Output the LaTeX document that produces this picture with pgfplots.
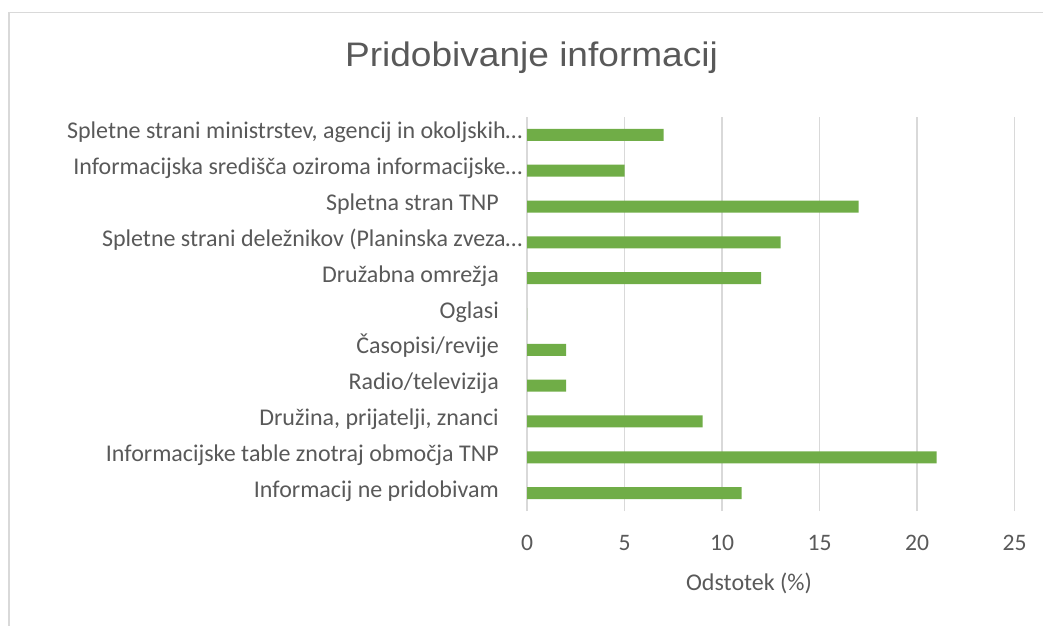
\documentclass[border=0pt]{standalone}
\usepackage{fontspec}
\setmainfont{Carlito}
\newfontfamily\titlefont[FakeStretch=1.09]{Liberation Sans}
\usepackage{pgfplots}
\pgfplotsset{compat=1.18}
\definecolor{bargreen}{HTML}{70AD47}
\definecolor{gridgray}{HTML}{D9D9D9}
\definecolor{txtgray}{HTML}{595959}
\newcommand\shiftlab[1]{\makebox[0pt][l]{\hspace{24pt}\llap{#1}}}
\begin{document}
\begin{tikzpicture}
\useasboundingbox (0,0) rectangle (1043pt,625pt);
\draw[gridgray, line width=1.6pt] (9pt,-2pt) -- (9pt,612.5pt) -- (1045pt,612.5pt);
\node[anchor=base, inner sep=0pt, text=txtgray, font=\titlefont\fontsize{34}{40}\selectfont]
  at (531.5pt,558.3pt) {Pridobivanje informacij};
\begin{axis}[
  at={(527pt,114pt)}, anchor=south west,
  scale only axis, width=487.5pt, height=394pt,
  xbar, bar width=12pt,
  xmin=0, xmax=25, ymin=-0.5, ymax=10.5,
  xtick={0,5,...,25},
  ytick={0,...,10},
  yticklabels={
    Informacij ne pridobivam,
    Informacijske table znotraj območja TNP,
    {Družina, prijatelji, znanci},
    Radio/televizija,
    Časopisi/revije,
    Oglasi,
    Družabna omrežja,
    \shiftlab{Spletne strani deležnikov (Planinska zveza…},
    Spletna stran TNP,
    \shiftlab{Informacijska središča oziroma informacijske…},
    \shiftlab{Spletne strani ministrstev, agencij in okoljskih…}},
  axis line style={draw=none},
  major tick length=0pt,
  xmajorgrids, grid style={gridgray, line width=1.5pt},
  /pgf/number format/assume math mode=true,
  tick label style={font=\fontsize{23.6}{26}\selectfont, text=txtgray, inner sep=0pt},
  yticklabel style={font=\fontsize{24}{26}\selectfont, anchor=east, xshift=-28pt, text height=15pt, text depth=7pt},
  xticklabel style={anchor=north, yshift=-24pt, text height=15pt, text depth=0pt},
  xlabel={Odstotek (\%)},
  xlabel style={font=\fontsize{24}{26}\selectfont, text=txtgray, inner sep=0pt,
    at={(axis description cs:0.4554,-0.2005)}, anchor=base, yshift=0pt},
]
\addplot[draw=none, fill=bargreen] coordinates {
  (11,0) (21,1) (9,2) (2,3) (2,4) (0,5) (12,6) (13,7) (17,8) (5,9) (7,10)
};
\end{axis}
\end{tikzpicture}
\end{document}
